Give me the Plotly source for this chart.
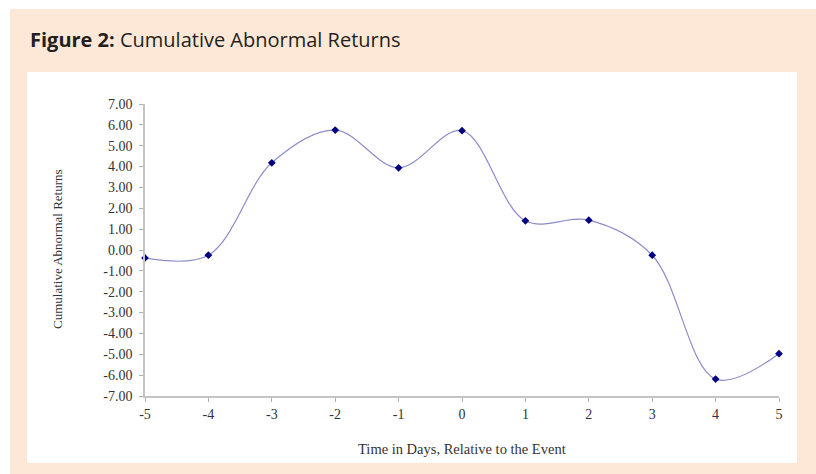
import plotly.graph_objects as go

days = [-5, -4, -3, -2, -1, 0, 1, 2, 3, 4, 5]
car = [-0.38, -0.25, 4.18, 5.75, 3.94, 5.72, 1.40, 1.43, -0.25, -6.19, -4.97]
ytick_vals = list(range(-7, 8))
ytick_text = ["%.2f" % v for v in ytick_vals]
xtick_vals = list(range(-5, 6))
xtick_text = [str(v) for v in xtick_vals]

W, H = 816, 474
L, R, T, B = 145, 779, 104, 396  # plot area in pixels

def px(x):
    return (x - L) / (R - L)

def py(y):
    return (B - y) / (B - T)

fig = go.Figure()
fig.add_trace(go.Scatter(
    x=days, y=car, mode="lines",
    line=dict(shape="spline", smoothing=1.0, color="#8c8cc8", width=1.2),
    hoverinfo="skip", cliponaxis=False, showlegend=False))
fig.add_trace(go.Scatter(
    x=days, y=car, mode="markers",
    marker=dict(symbol="diamond", size=6, color="#000080"),
    cliponaxis=False, showlegend=False))

serif = "Liberation Serif, Times New Roman, serif"
axis_common = dict(showgrid=False, zeroline=False, showline=True,
                   linecolor="#c4c4c4", linewidth=1.5, ticks="outside",
                   ticklen=4, tickcolor="#b0b0b0",
                   tickfont=dict(family=serif, size=14, color="#333"))
fig.update_layout(
    width=W, height=H,
    margin=dict(l=L, r=W - R, t=T, b=H - B),
    paper_bgcolor="white", plot_bgcolor="rgba(0,0,0,0)",
    xaxis=dict(range=[-5, 5], tickvals=xtick_vals, ticktext=xtick_text, **axis_common),
    yaxis=dict(range=[-7, 7], tickvals=ytick_vals, ticktext=ytick_text,
               ticklabelstandoff=4, **axis_common),
    shapes=[
        dict(type="rect", xref="paper", yref="paper", layer="below",
             x0=px(10), x1=px(W), y0=py(H), y1=py(9),
             fillcolor="#fde8d7", line=dict(width=0)),
        dict(type="rect", xref="paper", yref="paper", layer="below",
             x0=px(27), x1=px(797), y0=py(463), y1=py(72),
             fillcolor="white", line=dict(width=0)),
    ],
    annotations=[
        dict(xref="paper", yref="paper", x=px(28), y=py(39),
             xanchor="left", yanchor="middle", showarrow=False,
             text="<b>Figure 2:</b> Cumulative Abnormal Returns",
             font=dict(family="Open Sans, Noto Sans, sans-serif", size=20, color="#231f20")),
        dict(xref="paper", yref="paper", x=px(462), y=py(449),
             xanchor="center", yanchor="middle", showarrow=False,
             text="Time in Days, Relative to the Event",
             font=dict(family=serif, size=14.5, color="#333")),
        dict(xref="paper", yref="paper", x=px(57), y=py(249),
             xanchor="center", yanchor="middle", showarrow=False, textangle=-90,
             text="Cumulative Abnormal Returns",
             font=dict(family=serif, size=13, color="#333")),
    ],
)

fig.write_html("out.html", config={"displayModeBar": False},
               post_script="document.body.style.margin='0';document.body.style.overflow='hidden';")
